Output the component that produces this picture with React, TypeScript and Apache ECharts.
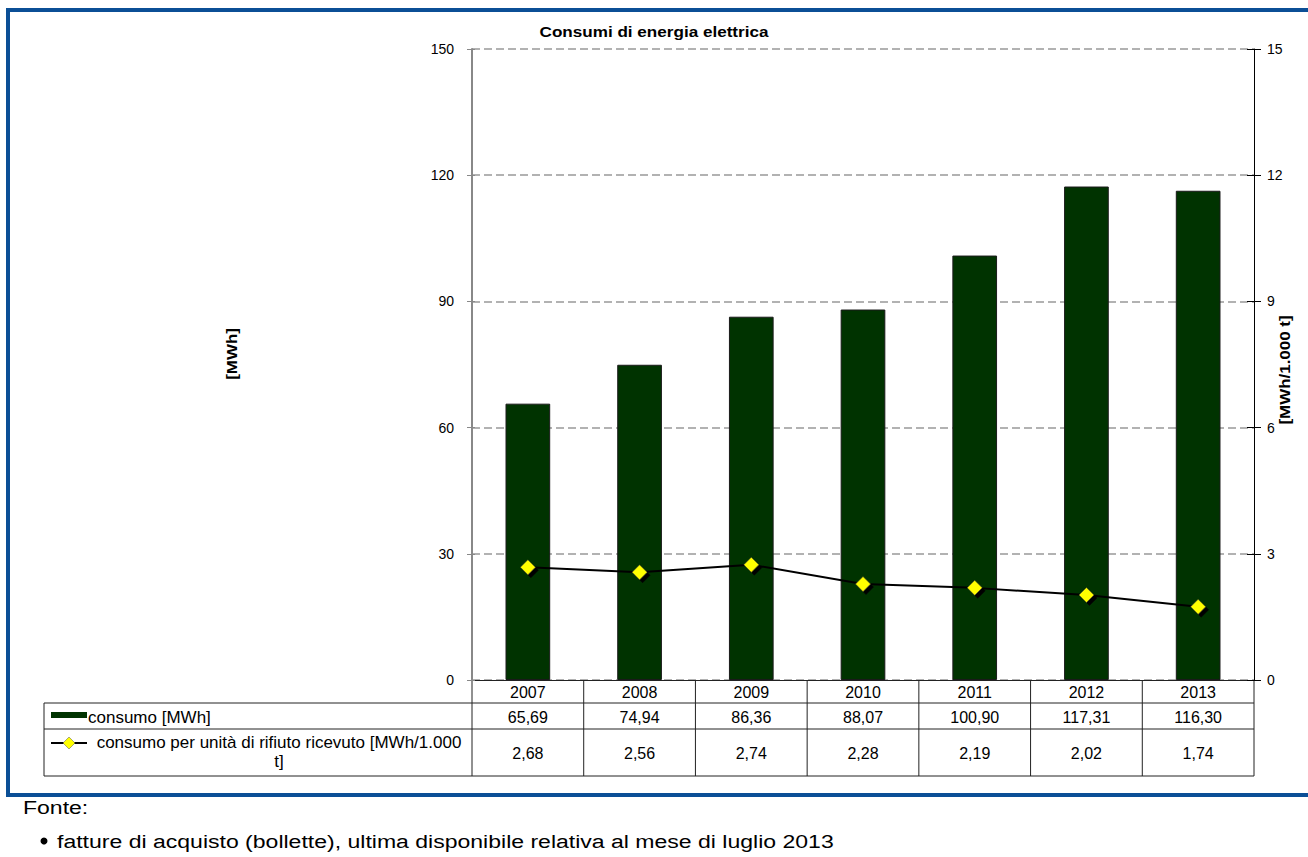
import React, { useEffect, useRef } from "react";
import * as echarts from "echarts";

const years = ["2007", "2008", "2009", "2010", "2011", "2012", "2013"];
const consumo = [65.69, 74.94, 86.36, 88.07, 100.9, 117.31, 116.3];
const consumoUnita = [2.68, 2.56, 2.74, 2.28, 2.19, 2.02, 1.74];
const seriesNames = ["consumo [MWh]", "consumo per unità di rifiuto ricevuto [MWh/1.000\nt]"];
const titleText = "Consumi di energia elettrica";
const leftAxisName = "[MWh]";
const rightAxisName = "[MWh/1.000 t]";
const fonteTitle = "Fonte:";
const fonteItems = ["fatture di acquisto (bollette), ultima disponibile relativa al mese di luglio 2013"];

const FONT = "'Liberation Sans', Arial, sans-serif";
const BLUE = "#0B4F96";
const GREEN = "#003300";

const fmt = (v: number) => v.toFixed(2).replace(".", ",");

export default function App() {
  const ref = useRef<HTMLDivElement>(null);
  useEffect(() => {
    if (!ref.current) return;
    const chart = echarts.init(ref.current, undefined, { renderer: "svg" });
    const gl = 472, gr = 1254, gt = 49, gb = 680;
    const colW = (gr - gl) / years.length;
    const tableLeft = 44;
    const r0 = 680, r1 = 703, r2 = 729, r3 = 776;
    const lineColor = "#222";

    const graphics: any[] = [];
    // blue frame
    graphics.push({ type: "rect", shape: { x: 6, y: 8, width: 1302, height: 4 }, style: { fill: BLUE } });
    graphics.push({ type: "rect", shape: { x: 6, y: 8, width: 4, height: 789 }, style: { fill: BLUE } });
    graphics.push({ type: "rect", shape: { x: 6, y: 793, width: 1302, height: 4 }, style: { fill: BLUE } });

    // table lines
    const hl = (y: number, x1: number, x2: number) =>
      graphics.push({ type: "line", shape: { x1, y1: y, x2, y2: y }, style: { stroke: lineColor, lineWidth: 1 } });
    const vl = (x: number, y1: number, y2: number) =>
      graphics.push({ type: "line", shape: { x1: x, y1, x2: x, y2 }, style: { stroke: lineColor, lineWidth: 1 } });
    hl(r1, tableLeft, gr);
    hl(r2, tableLeft, gr);
    hl(r3, tableLeft, gr);
    vl(tableLeft, r1, r3);
    for (let i = 0; i <= years.length; i++) vl(gl + i * colW, r0, r3);

    const cellText = (text: string, x: number, y: number, align = "center", size = 16) =>
      graphics.push({
        type: "text",
        x,
        y,
        style: { text, fill: "#000", font: `${size}px ${FONT}`, textAlign: align, textVerticalAlign: "middle" },
      });
    years.forEach((yr, i) => {
      const cx = gl + (i + 0.5) * colW;
      cellText(yr, cx, (r0 + r1) / 2 + 1);
      cellText(fmt(consumo[i]), cx, (r1 + r2) / 2 + 1);
      cellText(fmt(consumoUnita[i]), cx, (r2 + r3) / 2 + 1);
    });

    // legend keys
    graphics.push({ type: "rect", shape: { x: 51, y: 712, width: 36, height: 6 }, style: { fill: GREEN } });
    cellText(seriesNames[0], 88, (r1 + r2) / 2 + 1, "left", 17);
    graphics.push({ type: "line", shape: { x1: 51, y1: 743, x2: 87, y2: 743 }, style: { stroke: "#000", lineWidth: 2 } });
    graphics.push({
      type: "polygon",
      shape: { points: [[69, 737], [75, 743], [69, 749], [63, 743]] },
      style: { fill: "#FFFF00", stroke: "#555", lineWidth: 0.5 },
    });
    graphics.push({
      type: "text",
      x: 279,
      y: 752,
      style: {
        text: seriesNames[1],
        fill: "#000",
        font: `17px ${FONT}`,
        textAlign: "center",
        textVerticalAlign: "middle",
        lineHeight: 19,
      },
    });

    // title and axis names
    graphics.push({
      type: "text",
      x: 654,
      y: 31,
      scaleX: 1.14,
      style: { text: titleText, fill: "#000", font: `bold 15px ${FONT}`, textAlign: "center", textVerticalAlign: "middle" },
    });
    graphics.push({
      type: "text",
      x: 232,
      y: 354,
      rotation: Math.PI / 2,
      scaleX: 1.13,
      style: { text: leftAxisName, fill: "#000", font: `bold 15px ${FONT}`, textAlign: "center", textVerticalAlign: "middle" },
    });
    graphics.push({
      type: "text",
      x: 1285,
      y: 370,
      rotation: Math.PI / 2,
      scaleX: 1.13,
      style: { text: rightAxisName, fill: "#000", font: `bold 15px ${FONT}`, textAlign: "center", textVerticalAlign: "middle" },
    });

    // Fonte
    graphics.push({
      type: "text",
      x: 23,
      y: 807,
      scaleX: 1.28,
      style: { text: fonteTitle, fill: "#000", font: `18px ${FONT}`, textAlign: "left", textVerticalAlign: "middle" },
    });
    fonteItems.forEach((t, i) => {
      graphics.push({ type: "circle", shape: { cx: 44, cy: 841 + i * 28, r: 3.5 }, style: { fill: "#000" } });
      graphics.push({
        type: "text",
        x: 57,
        y: 841 + i * 28,
        scaleX: 1.28,
        style: { text: t, fill: "#000", font: `18px ${FONT}`, textAlign: "left", textVerticalAlign: "middle" },
      });
    });

    const hidden = { show: false };
    chart.setOption({
      animation: false,
      backgroundColor: "#fff",
      grid: { left: gl, top: gt, width: gr - gl, height: gb - gt, containLabel: false },
      xAxis: {
        type: "category",
        data: years,
        axisLabel: hidden,
        axisTick: hidden,
        axisLine: { lineStyle: { color: "#222", width: 1 } },
      },
      yAxis: [
        {
          type: "value",
          min: 0,
          max: 150,
          interval: 30,
          axisLine: { show: true, lineStyle: { color: "#888", width: 2 } },
          axisTick: { show: true, length: 5, lineStyle: { color: "#888" } },
          axisLabel: { color: "#000", fontSize: 14, fontFamily: FONT, margin: 18 },
          splitLine: { show: true, lineStyle: { color: "#999", type: [8, 4], width: 1.5 } },
        },
        {
          type: "value",
          min: 0,
          max: 15,
          interval: 3,
          position: "right",
          axisLine: { show: true, lineStyle: { color: "#000", width: 1 } },
          axisTick: { show: true, length: 7, lineStyle: { color: "#000" } },
          axisLabel: { color: "#000", fontSize: 14, fontFamily: FONT, margin: 13 },
          splitLine: { show: false },
        },
        {
          type: "value",
          min: 0,
          max: 150,
          interval: 30,
          position: "left",
          axisLine: hidden,
          axisLabel: hidden,
          splitLine: hidden,
          axisTick: { show: true, inside: true, length: 3, lineStyle: { color: "#888" } },
        },
        {
          type: "value",
          min: 0,
          max: 15,
          interval: 3,
          position: "right",
          axisLine: hidden,
          axisLabel: hidden,
          splitLine: hidden,
          axisTick: { show: true, inside: true, length: 7, lineStyle: { color: "#000" } },
        },
      ],
      series: [
        {
          name: "consumo [MWh]",
          type: "bar",
          data: consumo,
          barWidth: "40%",
          yAxisIndex: 0,
          itemStyle: { color: GREEN, borderColor: "#1a1a1a", borderWidth: 1 },
        },
        {
          name: "consumo per unità di rifiuto ricevuto [MWh/1.000 t]",
          type: "line",
          data: consumoUnita,
          yAxisIndex: 1,
          symbol: "diamond",
          symbolSize: 15,
          lineStyle: { color: "#000", width: 2 },
          itemStyle: {
            color: "#FFFF00",
            borderColor: "#333",
            borderWidth: 0.5,
            shadowColor: "#000",
            shadowOffsetX: 3,
            shadowOffsetY: 3,
            shadowBlur: 1,
          },
          z: 5,
        },
      ],
      graphic: graphics,
    });
    return () => chart.dispose();
  }, []);
  return <div ref={ref} style={{ position: "fixed", left: 0, top: 0, width: 1308, height: 857 }} />;
}
